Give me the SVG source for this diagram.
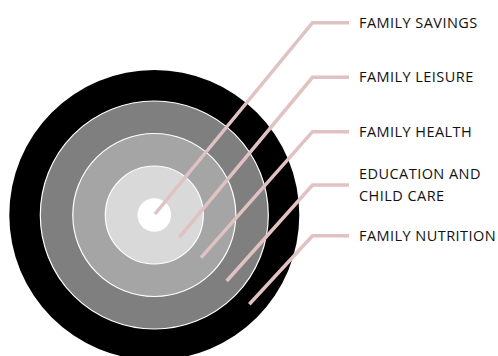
<svg xmlns="http://www.w3.org/2000/svg" width="498" height="356" viewBox="0 0 498 356">
<style>
.ring{stroke:#ffffff;stroke-width:1.2}
.ld{fill:none;stroke:#e0c2c2;stroke-width:3.5;stroke-linejoin:miter}
.lb{font-family:"Open Sans","Liberation Sans",sans-serif;font-size:14.5px;letter-spacing:0.45px;fill:#111111}
</style>
<rect width="498" height="356" fill="#ffffff"/>
<g id="ring-nutrition"><circle cx="154.3" cy="215" r="145" fill="#000000"/></g>
<g id="ring-education"><circle class="ring" cx="154.3" cy="215" r="114" fill="#7f7f7f"/></g>
<g id="ring-health"><circle class="ring" cx="154.3" cy="215" r="81.5" fill="#a5a5a5"/></g>
<g id="ring-leisure"><circle class="ring" cx="154.3" cy="215" r="49" fill="#d9d9d9"/></g>
<g id="ring-savings"><circle cx="154.3" cy="215" r="16.8" fill="#ffffff"/></g>
<g id="connectors">
<polyline class="ld" points="155,214 312.5,22.7 349,22.7"/>
<polyline class="ld" points="179.3,237.3 312.5,77.3 349,77.3"/>
<polyline class="ld" points="201,257.7 312.5,131.7 349,131.7"/>
<polyline class="ld" points="226.7,281 312.5,185 349,185"/>
<polyline class="ld" points="249.3,304.3 312.5,235.7 349,235.7"/>
</g>
<g id="label-savings"><text class="lb" x="359" y="27.7">FAMILY SAVINGS</text></g>
<g id="label-leisure"><text class="lb" x="359" y="82.4">FAMILY LEISURE</text></g>
<g id="label-health"><text class="lb" x="359" y="136.7">FAMILY HEALTH</text></g>
<g id="label-education"><text class="lb" x="359" y="179.2">EDUCATION AND</text><text class="lb" x="359" y="201.2">CHILD CARE</text></g>
<g id="label-nutrition"><text class="lb" x="359" y="240.8">FAMILY NUTRITION</text></g>
</svg>
